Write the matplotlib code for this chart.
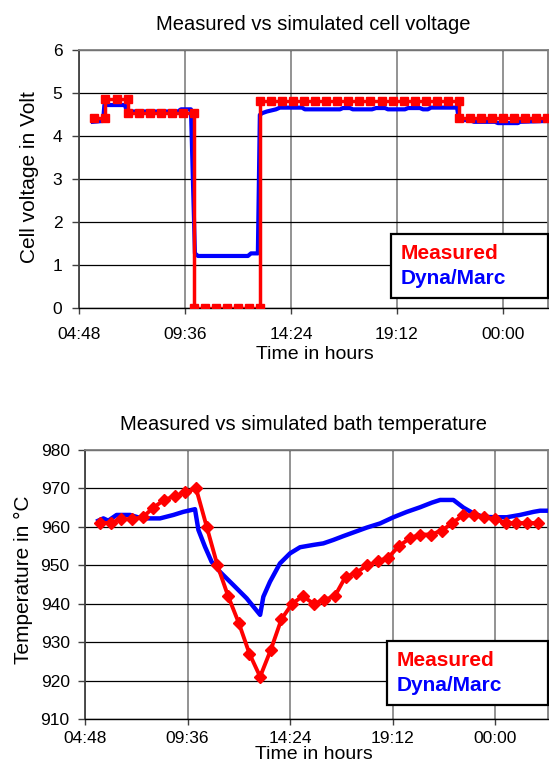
import matplotlib
matplotlib.use("agg")
import matplotlib.pyplot as plt
from matplotlib.ticker import FuncFormatter

plt.rcParams['font.family'] = ['Liberation Sans', 'DejaVu Sans']

# time of day in hours (values above 24 are after midnight)
tick_hours = [4.8, 9.6, 14.4, 19.2, 24.0]

# cell voltage, measured (duplicate times give the vertical steps)
volt_meas_t = [5.5, 6.0, 6.0, 6.5, 7.0, 7.0, 7.5, 8.0, 8.5, 9.0, 9.5, 10.0,
               10.0, 10.5, 11.0, 11.5, 12.0, 12.5, 13.0,
               13.0, 13.5, 14.0, 14.5, 15.0, 15.5, 16.0, 16.5, 17.0, 17.5,
               18.0, 18.5, 19.0, 19.5, 20.0, 20.5, 21.0, 21.5, 22.0,
               22.0, 22.5, 23.0, 23.5, 24.0, 24.5, 25.0, 25.5, 26.0]
volt_meas = [4.43, 4.43, 4.85, 4.85, 4.85, 4.54, 4.54, 4.54, 4.54, 4.54, 4.54, 4.54,
             0, 0, 0, 0, 0, 0, 0,
             4.81, 4.81, 4.81, 4.81, 4.81, 4.81, 4.81, 4.81, 4.81, 4.81,
             4.81, 4.81, 4.81, 4.81, 4.81, 4.81, 4.81, 4.81, 4.81,
             4.43, 4.43, 4.43, 4.43, 4.43, 4.43, 4.43, 4.43, 4.43]

# cell voltage, Dyna/Marc simulation
volt_sim_t = [5.43, 5.89, 5.95, 6.88, 6.97, 9.28, 9.42, 9.87, 10.05, 10.19, 12.45,
              12.59, 12.90, 12.99, 13.09, 13.31, 13.72, 13.90, 14.90, 15.03, 16.62,
              16.75, 17.07, 17.20, 18.07, 18.25, 18.66, 18.79, 19.56, 19.70, 20.24,
              20.38, 20.60, 20.74, 21.92, 22.01, 22.50, 22.69, 23.64, 23.77, 24.68,
              24.77, 26.04]
volt_sim = [4.33, 4.35, 4.72, 4.72, 4.57, 4.57, 4.62, 4.62, 1.27, 1.21, 1.21,
            1.27, 1.27, 4.49, 4.53, 4.57, 4.62, 4.66, 4.66, 4.62, 4.62,
            4.65, 4.65, 4.62, 4.62, 4.65, 4.65, 4.62, 4.62, 4.65, 4.65,
            4.62, 4.62, 4.66, 4.66, 4.37, 4.37, 4.33, 4.33, 4.30, 4.30,
            4.33, 4.35]

# bath temperature, measured
temp_meas_t = [5.5, 6.0, 6.5, 7.0, 7.5, 8.0, 8.5, 9.0, 9.5, 10.0, 10.5, 11.0,
               11.5, 12.0, 12.5, 13.0, 13.5, 14.0, 14.5, 15.0, 15.5, 16.0,
               16.5, 17.0, 17.5, 18.0, 18.5, 19.0, 19.5, 20.0, 20.5, 21.0,
               21.5, 22.0, 22.5, 23.0, 23.5, 24.0, 24.5, 25.0, 25.5, 26.0]
temp_meas = [961, 961, 962, 962, 962.5, 965, 967, 968, 969, 970, 960, 950,
             942, 935, 927, 921, 928, 936, 940, 942, 940, 941,
             942, 947, 948, 950, 951, 952, 955, 957, 958, 958,
             959, 961, 963, 963, 962.5, 962, 961, 961, 961, 961]

# bath temperature, Dyna/Marc simulation
temp_sim_t = [5.42, 5.66, 5.89, 6.28, 6.91, 7.46, 8.31, 8.94, 9.40, 9.95, 10.11,
              10.42, 10.73, 11.12, 11.74, 12.37, 13.00, 13.15, 13.46, 13.93, 14.40,
              14.87, 15.49, 15.96, 16.43, 16.90, 17.99, 18.62, 19.24, 19.87, 20.49,
              21.04, 21.43, 22.05, 22.52, 22.99, 23.45, 24.08, 24.55, 25.17, 25.80,
              26.11, 26.53]
temp_sim = [961.6, 962.2, 961.6, 963.1, 963.1, 962.2, 962.2, 963.1, 963.9, 964.6, 959.2,
            954.8, 950.9, 948.3, 944.9, 941.4, 937.1, 941.8, 945.7, 950.5, 953.1,
            954.7, 955.3, 955.7, 956.6, 957.6, 959.8, 960.9, 962.5, 963.9, 965.1,
            966.3, 967.0, 967.0, 965.0, 963.5, 962.6, 962.5, 962.5, 963.1, 963.9,
            964.2, 964.2]


def hhmm(h, pos=None):
    m = int(round(h * 60))
    return "%02d:%02d" % ((m // 60) % 24, m % 60)


def style_axes(ax, xpad, ypad):
    ax.set_xticks(tick_hours)
    ax.xaxis.set_major_formatter(FuncFormatter(hhmm))
    ax.yaxis.grid(True, color='black', linewidth=0.9)
    ax.xaxis.grid(True, color='#808080', linewidth=1.2)
    ax.set_axisbelow(True)
    for side in ['top', 'right']:
        ax.spines[side].set_color('#808080')
        ax.spines[side].set_linewidth(1.3)
    ax.spines['left'].set_color('#404040')
    ax.spines['left'].set_linewidth(1.3)
    ax.spines['bottom'].set_color('black')
    ax.spines['bottom'].set_linewidth(1.0)
    ax.tick_params(axis='x', length=4, width=1, color='#404040', pad=xpad, labelsize=12.5)
    ax.tick_params(axis='y', length=5, width=1, color='#404040', pad=ypad, labelsize=12.5)


def add_legend(ax, x0, y_top):
    # text-only legend: Measured on top, Dyna/Marc below
    handles, labels = ax.get_legend_handles_labels()
    leg = ax.legend(handles[::-1], labels[::-1], loc='upper left',
                    bbox_to_anchor=(x0, y_top, 1.0 - x0, 0), mode='expand', borderaxespad=0,
                    handlelength=0, handletextpad=0, borderpad=0.47, labelspacing=0.32,
                    fancybox=False, framealpha=1, edgecolor='black',
                    prop={'weight': 'bold', 'size': 15})
    leg.get_frame().set_linewidth(1.6)
    for hdl in leg.legend_handles:
        hdl.set_visible(False)
    for txt, c in zip(leg.get_texts(), ['#ff0000', '#0000ff']):
        txt.set_color(c)


fig = plt.figure(figsize=(5.49, 7.65), dpi=100)

# --- cell voltage ---
ax1 = fig.add_axes([79 / 549, 1 - 308 / 765, 469 / 549, 258 / 765])
ax1.plot(volt_sim_t, volt_sim, color='#0000ff', linewidth=3.0, label='Dyna/Marc', zorder=3)
ax1.plot(volt_meas_t, volt_meas, color='#ff0000', linewidth=2.5, marker='s', markersize=5.5,
         label='Measured', zorder=4)
ax1.set_xlim(4.8, 26.04)
ax1.set_ylim(0, 6)
ax1.set_yticks([0, 1, 2, 3, 4, 5, 6])
style_axes(ax1, xpad=9.5, ypad=7)
ax1.set_title('Measured vs simulated cell voltage', fontsize=14.5, y=1.078, pad=0)
ax1.set_xlabel('Time in hours', fontsize=14)
ax1.xaxis.set_label_coords(0.503, -0.146)
ax1.xaxis.label.set_va('top')
ax1.set_ylabel('Cell voltage in Volt', fontsize=15)
ax1.yaxis.set_label_coords(-0.086, 0.508)
add_legend(ax1, (391 - 79) / 469, (308 - 234) / 258)

# --- bath temperature ---
ax2 = fig.add_axes([85 / 549, 1 - 719 / 765, 463 / 549, 269 / 765])
ax2.plot(temp_sim_t, temp_sim, color='#0000ff', linewidth=3.2, label='Dyna/Marc', zorder=3)
ax2.plot(temp_meas_t, temp_meas, color='#ff0000', linewidth=2.8, marker='D', markersize=6.3,
         label='Measured', zorder=4)
ax2.set_xlim(4.8, 26.48)
ax2.set_ylim(910, 980)
ax2.set_yticks(range(910, 981, 10))
style_axes(ax2, xpad=4.5, ypad=6)
ax2.set_title('Measured vs simulated bath temperature', fontsize=14.5, x=0.471, y=1.074, pad=0)
ax2.set_xlabel('Time in hours', fontsize=14)
ax2.xaxis.set_label_coords(0.495, -0.1)
ax2.xaxis.label.set_va('top')
ax2.set_ylabel('Temperature in °C', fontsize=15)
ax2.yaxis.set_label_coords(-0.112, 0.517)
add_legend(ax2, (387 - 85) / 463, (719 - 641) / 269)

fig.savefig('out.png', dpi=100)
